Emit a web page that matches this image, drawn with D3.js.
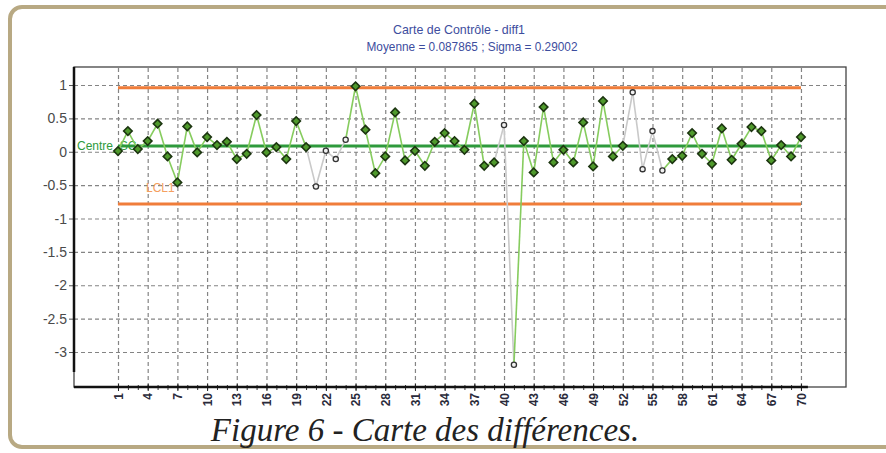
<!DOCTYPE html>
<html>
<head>
<meta charset="utf-8">
<script src="https://cdn.jsdelivr.net/npm/d3@7"></script>
<style>
	body { margin: 0; background: #fff; }
	svg { display: block; }
</style>
</head>
<body>
<div id="chart"></div>
<script>
"use strict";

// Data
var samples = [1, 2, 3, 4, 5, 6, 7, 8, 9, 10, 11, 12, 13, 14, 15, 16, 17, 18, 19, 20,
	21, 22, 23, 24, 25, 26, 27, 28, 29, 30, 31, 32, 33, 34, 35, 36, 37, 38, 39, 40,
	41, 42, 43, 44, 45, 46, 47, 48, 49, 50, 51, 52, 53, 54, 55, 56, 57, 58, 59, 60,
	61, 62, 63, 64, 65, 66, 67, 68, 69, 70];
var diff1 = [0.01, 0.31, 0.04, 0.16, 0.42, -0.07, -0.46, 0.38, -0.01, 0.22,
	0.10, 0.15, -0.11, -0.03, 0.55, -0.01, 0.07, -0.11, 0.46, 0.07,
	-0.52, 0.015, -0.11, 0.18, 0.98, 0.33, -0.32, -0.07, 0.59, -0.13,
	0.015, -0.21, 0.15, 0.28, 0.16, 0.03, 0.72, -0.21, -0.16, 0.40,
	-3.19, 0.16, -0.31, 0.67, -0.16, 0.03, -0.16, 0.44, -0.22, 0.76,
	-0.07, 0.09, 0.89, -0.26, 0.31, -0.28, -0.11, -0.06, 0.28, -0.03,
	-0.18, 0.35, -0.12, 0.12, 0.37, 0.31, -0.13, 0.10, -0.07, 0.22];
var flagged = [21, 22, 23, 24, 40, 41, 53, 54, 55, 56];
var xTicks = [1, 4, 7, 10, 13, 16, 19, 22, 25, 28, 31, 34, 37, 40, 43, 46, 49, 52, 55, 58, 61, 64, 67, 70];
var yTicks = [1, 0.5, 0, -0.5, -1, -1.5, -2, -2.5, -3];
var mean = 0.087865;
var sigma = 0.29002;

var data = samples.map(function(s, i) {
	return { n: s, v: diff1[i], out: flagged.indexOf(s) >= 0 };
});
var ucl = mean + 3 * sigma;
var lcl = mean - 3 * sigma;

//
// Setup Variables
//
var canvasWidth = 886;
var canvasHeight = 453;
var margin = { top: 67, left: 74 };
var width = 772;
var height = 320;

var x = d3.scaleLinear().domain([-3.445, 74.55]).range([0, width]);
var y = d3.scaleLinear().domain([1.27, -3.524]).range([0, height]);

var sans = "'Liberation Sans', Arial, sans-serif";
var plain = function(d) { return String(d); };

//
// Draw Canvas
//
var root = d3.select("#chart")
	.append("svg")
		.attr("width", canvasWidth)
		.attr("height", canvasHeight);

root.append("rect")
	.attr("x", 10)
	.attr("y", 7)
	.attr("width", 900)
	.attr("height", 440)
	.attr("rx", 12)
	.attr("fill", "#fff")
	.attr("stroke", "#b8a983")
	.attr("stroke-width", 4);

root.append("text")
	.attr("x", 459)
	.attr("y", 34)
	.attr("text-anchor", "middle")
	.attr("textLength", 132)
	.attr("lengthAdjust", "spacingAndGlyphs")
	.style("font-family", sans)
	.style("font-size", "13px")
	.attr("fill", "#3d4d9e")
	.text("Carte de Contrôle - diff1");

root.append("text")
	.attr("x", 472)
	.attr("y", 51)
	.attr("text-anchor", "middle")
	.attr("textLength", 211)
	.attr("lengthAdjust", "spacingAndGlyphs")
	.style("font-family", sans)
	.style("font-size", "13px")
	.attr("fill", "#3d4d9e")
	.text("Moyenne = " + mean + " ; Sigma = " + sigma);

root.append("text")
	.attr("x", 425)
	.attr("y", 441)
	.attr("text-anchor", "middle")
	.style("font-family", "'Liberation Serif', 'Times New Roman', serif")
	.style("font-style", "italic")
	.style("font-size", "33px")
	.attr("fill", "#222")
	.text("Figure 6 - Carte des différences.");

var svg = root.append("g")
	.attr("transform", "translate(" + margin.left + "," + margin.top + ")");

//
// Grid
//
var gridX = svg.append("g")
	.attr("transform", "translate(0," + height + ")")
	.call(d3.axisBottom(x).tickValues(xTicks).tickSize(-height).tickFormat(""));
var gridY = svg.append("g")
	.call(d3.axisLeft(y).tickValues(yTicks).tickSize(-width).tickFormat(""));
[gridX, gridY].forEach(function(g) {
	g.select(".domain").remove();
	g.selectAll("line")
		.attr("stroke", "#848484")
		.attr("stroke-width", 1.2)
		.attr("stroke-dasharray", "4,3");
});

// plot frame
svg.append("rect")
	.attr("width", width)
	.attr("height", height)
	.attr("fill", "none")
	.attr("stroke", "#444")
	.attr("stroke-width", 1.3);

//
// Draw Y-Axis
//
var yAxis = svg.append("g")
	.call(d3.axisLeft(y).tickValues(yTicks).tickSize(5).tickPadding(2).tickFormat(plain));
yAxis.select(".domain").remove();
yAxis.selectAll("line").attr("stroke", "#555");
yAxis.selectAll("text")
	.style("font-family", sans)
	.style("font-size", "14px")
	.attr("fill", "#4a4a4a");

svg.append("line")
	.attr("x1", 0).attr("x2", 0)
	.attr("y1", 0).attr("y2", y(-3.3))
	.attr("stroke", "#111")
	.attr("stroke-width", 2.5);

//
// Draw X-Axis
//
var xMinor = svg.append("g")
	.attr("transform", "translate(0," + height + ")")
	.call(d3.axisBottom(x).tickValues(samples).tickSizeInner(3).tickSizeOuter(0).tickFormat(""));
xMinor.select(".domain").remove();
xMinor.selectAll("line").attr("stroke", "#333").attr("y1", -2);

var xAxis = svg.append("g")
	.attr("transform", "translate(0," + height + ")")
	.call(d3.axisBottom(x).tickValues(xTicks).tickSize(4).tickFormat(plain));
xAxis.select(".domain").remove();
xAxis.selectAll("line").attr("stroke", "#222").attr("y1", -3);
xAxis.selectAll("text")
	.attr("transform", "translate(0,4) rotate(-90)")
	.attr("text-anchor", "end")
	.attr("x", -2)
	.attr("y", 0)
	.attr("dy", "0.35em")
	.style("font-family", sans)
	.style("font-size", "12px")
	.style("font-weight", "bold")
	.attr("fill", "#2a2a3a");

svg.append("line")
	.attr("x1", 0).attr("x2", x(70.7))
	.attr("y1", height).attr("y2", height)
	.attr("stroke", "#111")
	.attr("stroke-width", 2.5);

//
// Control limits and centre line
//
var limits = [
	{ v: ucl, color: "#f07d3a", w: 3 },
	{ v: lcl, color: "#f07d3a", w: 3 },
	{ v: mean, color: "#2e9a3c", w: 3 }
];
svg.selectAll(".limit")
	.data(limits)
	.enter().append("line")
		.attr("class", "limit")
		.attr("x1", x(1))
		.attr("x2", x(70))
		.attr("y1", function(d) { return y(d.v); })
		.attr("y2", function(d) { return y(d.v); })
		.attr("stroke", function(d) { return d.color; })
		.attr("stroke-width", function(d) { return d.w; });

svg.append("text")
	.attr("x", 3)
	.attr("y", y(mean) + 4)
	.style("font-family", sans)
	.style("font-size", "12px")
	.attr("fill", "#2e9a3c")
	.text("Centre_SC");

svg.append("text")
	.attr("x", 72)
	.attr("y", y(lcl) - 12)
	.style("font-family", sans)
	.style("font-size", "12px")
	.attr("fill", "#f5a060")
	.text("LCL1");

//
// Draw Series
//
svg.selectAll(".seg")
	.data(data.slice(1))
	.enter().append("line")
		.attr("class", "seg")
		.attr("x1", function(d, i) { return x(data[i].n); })
		.attr("y1", function(d, i) { return y(data[i].v); })
		.attr("x2", function(d) { return x(d.n); })
		.attr("y2", function(d) { return y(d.v); })
		.attr("stroke", function(d) { return d.out ? "#c9c9c9" : "#86cc5e"; })
		.attr("stroke-width", 1.6);

svg.selectAll(".pt")
	.data(data.filter(function(d) { return !d.out; }))
	.enter().append("path")
		.attr("class", "pt")
		.attr("d", d3.symbol(d3.symbolSquare, 36))
		.attr("transform", function(d) { return "translate(" + x(d.n) + "," + y(d.v) + ") rotate(45)"; })
		.attr("fill", "#4f9a2c")
		.attr("stroke", "#1c3510")
		.attr("stroke-width", 1.6);

svg.selectAll(".out")
	.data(data.filter(function(d) { return d.out; }))
	.enter().append("circle")
		.attr("class", "out")
		.attr("cx", function(d) { return x(d.n); })
		.attr("cy", function(d) { return y(d.v); })
		.attr("r", 2.6)
		.attr("fill", "#f2f2f2")
		.attr("stroke", "#333")
		.attr("stroke-width", 1.3);
</script>
</body>
</html>
